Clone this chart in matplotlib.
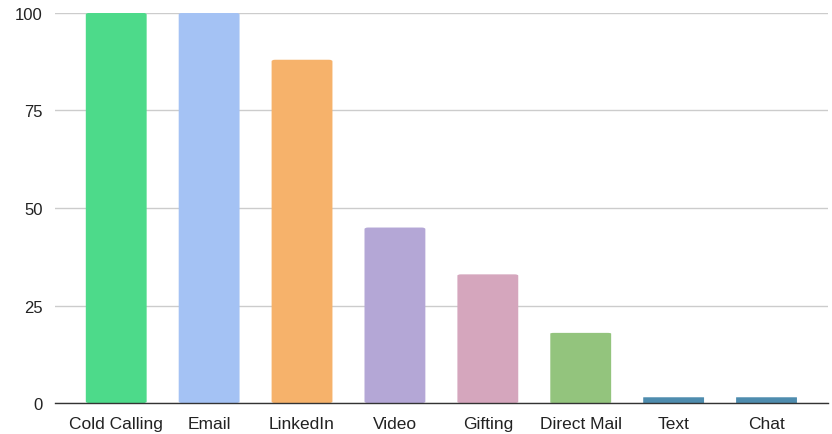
import matplotlib
matplotlib.use("Agg")
import matplotlib.pyplot as plt
from matplotlib.patches import FancyBboxPatch

channels = ["Cold Calling", "Email", "LinkedIn", "Video", "Gifting", "Direct Mail", "Text", "Chat"]
values = [100, 100, 88, 45, 33, 18, 1.5, 1.5]
colors = ["#4DDA8A", "#A4C2F4", "#F6B26B", "#B4A7D6", "#D5A6BD", "#93C47D", "#4E8CAE", "#4E8CAE"]
yticks = [0, 25, 50, 75, 100]

plt.rcParams["font.family"] = ["Liberation Sans", "DejaVu Sans"]

fig = plt.figure(figsize=(8.32, 4.35), dpi=100)
ax = fig.add_axes([0.066, 0.071, 0.929, 0.897])

width = 0.655
bars = ax.bar(range(len(channels)), values, width=width, color=colors, zorder=3)

# soften the bar corners slightly
for b in bars:
    x, y = b.get_x(), b.get_y()
    w, h = b.get_width(), b.get_height()
    patch = FancyBboxPatch((x, y), w, h, boxstyle="round,pad=0,rounding_size=0.04",
                           mutation_aspect=min(h, 40) / 4 if h > 0 else 1,
                           facecolor=b.get_facecolor(), edgecolor="none", zorder=3)
    b.set_visible(False)
    ax.add_patch(patch)

ax.set_xlim(-0.66, len(channels) - 1 + 0.66)
ax.set_ylim(0, 100)
ax.set_yticks(yticks)
ax.set_yticklabels([str(t) for t in yticks], fontsize=12, color="#222222")
ax.set_xticks(range(len(channels)))
ax.set_xticklabels(channels, fontsize=12.5, color="#222222")

ax.grid(axis="y", color="#cccccc", linewidth=1, zorder=0)
ax.tick_params(axis="y", length=0, pad=9)
ax.tick_params(axis="x", length=0, pad=9)
for s in ["top", "right", "left"]:
    ax.spines[s].set_visible(False)
ax.spines["bottom"].set_color("#333333")
ax.spines["bottom"].set_linewidth(1)
ax.spines["bottom"].set_zorder(4)

fig.savefig("out.png", dpi=100)
